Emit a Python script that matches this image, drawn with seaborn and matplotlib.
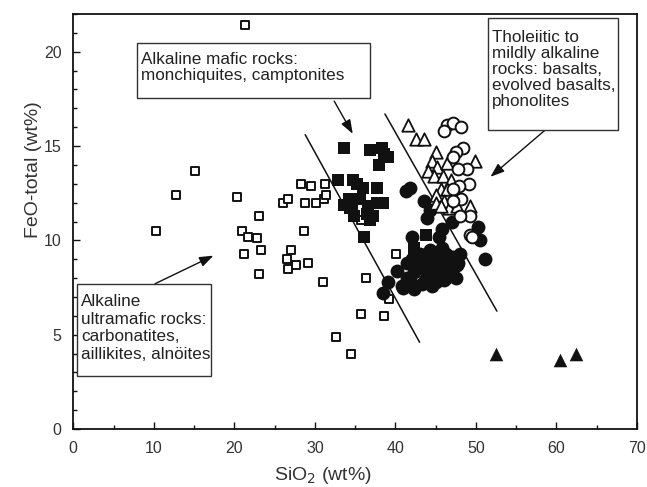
import matplotlib
matplotlib.use("Agg")
import matplotlib.pyplot as plt
from matplotlib.patches import Rectangle
import seaborn as sns
import pandas as pd

# ---------------- data (SiO2, FeO-total in wt%) ----------------
ultramafic_sio2 = [15.1, 12.7, 10.3, 20.3, 23.0, 21.0, 21.7, 22.8, 21.2, 23.3, 23.0, 26.0,
                   26.6, 28.3, 29.5, 31.3, 28.8, 30.2, 31.1, 31.4, 28.6, 27.0, 26.5, 26.6,
                   27.6, 29.2, 31.0, 36.3, 35.7, 32.6, 34.5, 35.7, 21.3, 40.1, 39.2, 38.6]
ultramafic_feo = [13.7, 12.4, 10.5, 12.3, 11.3, 10.5, 10.2, 10.1, 9.3, 9.5, 8.2, 12.0,
                  12.2, 13.0, 12.9, 13.0, 12.0, 12.0, 12.2, 12.4, 10.5, 9.5, 9.0, 8.5,
                  8.7, 8.8, 7.8, 8.0, 6.1, 4.9, 4.0, 11.1, 21.4, 9.3, 6.9, 6.0]

mafic_sio2 = [33.6, 36.8, 38.3, 38.6, 39.1, 38.0, 32.9, 34.7, 35.2, 36.0, 37.7, 34.2, 35.6,
              33.6, 34.6, 36.6, 37.7, 38.5, 34.8, 36.5, 37.2, 36.8, 36.1, 43.8, 42.3, 34.4]
mafic_feo = [14.9, 14.8, 14.9, 14.6, 14.4, 14.0, 13.2, 13.2, 13.0, 12.8, 12.8, 12.2, 12.2,
             11.9, 11.8, 11.8, 12.0, 12.0, 11.3, 11.4, 11.3, 11.1, 10.2, 10.3, 9.6, 11.7]

basalt_sio2 = [41.8, 41.3, 43.5, 44.3, 43.9, 45.8, 45.4, 42.0, 47.0, 50.3, 50.5, 51.1,
               39.1, 38.5, 40.2, 41.4, 41.0, 42.3, 43.3, 45.0, 46.3, 45.2, 46.3, 47.2,
               47.6, 47.0, 45.6, 43.9, 42.7, 42.3, 43.9, 45.2, 44.8, 43.1, 41.8, 43.7,
               46.0, 46.5, 44.3, 45.8, 42.0, 44.5, 46.0, 47.5, 43.0, 44.0, 46.8, 45.0,
               47.8, 41.5, 40.8, 48.0]
basalt_feo = [12.8, 12.6, 12.1, 11.6, 11.2, 10.6, 10.2, 10.2, 11.0, 10.7, 10.0, 9.0,
              7.8, 7.2, 8.4, 8.8, 7.5, 7.4, 7.7, 7.8, 8.0, 9.3, 9.3, 9.1,
              8.7, 8.4, 8.9, 8.8, 8.6, 8.3, 8.3, 8.4, 8.9, 8.9, 7.9, 7.9,
              8.6, 8.3, 9.5, 9.6, 9.0, 7.6, 7.9, 8.0, 9.3, 9.1, 8.9, 9.0,
              8.8, 8.0, 7.6, 9.3]

evolved_sio2 = [41.6, 42.5, 43.6, 45.1, 44.6, 45.2, 46.4, 44.0, 44.8, 45.9, 46.9, 45.6,
                46.4, 45.0, 47.3, 46.0, 45.0, 46.6, 49.3, 47.6, 49.9, 45.6]
evolved_feo = [16.1, 15.4, 15.4, 14.7, 14.2, 13.9, 14.1, 13.7, 13.4, 13.4, 13.2, 12.7,
               12.7, 12.4, 12.3, 12.1, 12.0, 11.7, 11.8, 11.8, 14.2, 11.8]

phonolite_sio2 = [46.4, 47.2, 48.2, 46.0, 48.4, 47.5, 47.2, 48.9, 47.8, 49.1, 47.9, 47.2,
                  48.2, 47.2, 49.3, 48.0, 49.2, 49.5]
phonolite_feo = [16.1, 16.2, 16.0, 15.8, 14.9, 14.7, 14.4, 13.8, 13.8, 13.0, 12.9, 12.7,
                 12.2, 12.1, 11.3, 11.3, 10.3, 10.2]

other_sio2 = [52.5, 60.5, 62.4]
other_feo = [4.0, 3.65, 4.0]

# discriminant lines (two end points each)
line1_sio2 = [28.8, 43.0]
line1_feo = [15.6, 4.6]
line2_sio2 = [38.7, 52.6]
line2_feo = [16.7, 6.25]

x_ticks = [0, 10, 20, 30, 40, 50, 60, 70]
y_ticks = [0, 5, 10, 15, 20]

label_mafic = "Alkaline mafic rocks:\nmonchiquites, camptonites"
label_thol = "Tholeiitic to\nmildly alkaline\nrocks: basalts,\nevolved basalts,\nphonolites"
label_ultra = "Alkaline\nultramafic rocks:\ncarbonatites,\naillikites, aln\u00f6ites"

# ---------------- figure ----------------
sns.set_theme(style="ticks")
plt.rcParams["font.family"] = ["Liberation Sans", "DejaVu Sans"]
W, H = 647, 487
fig = plt.figure(figsize=(W / 100, H / 100), dpi=100)
x0, x1, y0, y1 = 73.3, 637.0, 429.0, 14.0
ax = fig.add_axes([x0 / W, (H - y0) / H, (x1 - x0) / W, (y0 - y1) / H])

ink = "#111111"

groups = [
    (ultramafic_sio2, ultramafic_feo, "s", 30, "white", 1.4),
    (mafic_sio2, mafic_feo, "s", 66, ink, 0.0),
    (basalt_sio2, basalt_feo, "o", 100, ink, 0.0),
    (evolved_sio2, evolved_feo, "^", 80, "white", 1.3),
    (phonolite_sio2, phonolite_feo, "o", 72, "white", 1.4),
    (other_sio2, other_feo, "^", 95, ink, 0.0),
]
for xs, ys, mk, size, fc, lw in groups:
    df = pd.DataFrame({"SiO2": xs, "FeO": ys})
    sns.scatterplot(data=df, x="SiO2", y="FeO", marker=mk, s=size, color=fc,
                    edgecolor=ink, linewidth=lw, ax=ax, legend=False, zorder=3)

sns.lineplot(x=line1_sio2, y=line1_feo, color=ink, lw=1.1, ax=ax, zorder=2)
sns.lineplot(x=line2_sio2, y=line2_feo, color=ink, lw=1.1, ax=ax, zorder=2)

ax.set_xlim(0, 70)
ax.set_ylim(0, 22)
ax.set_xticks(x_ticks)
ax.set_yticks(y_ticks)
ax.set_xticks(range(0, 71, 5), minor=True)
ax.set_yticks(range(0, 23, 1), minor=True)
ax.tick_params(which="both", direction="in", colors=ink, labelcolor="#333333",
               labelsize=11.5, top=False, right=False)
ax.tick_params(which="major", length=5, width=1.0, pad=8.5)
ax.tick_params(which="minor", length=3, width=1.0)
for sp in ax.spines.values():
    sp.set_visible(True)
    sp.set_color(ink)
    sp.set_linewidth(1.3)

ax.set_xlabel("SiO$_2$ (wt%)", fontsize=14, color="#333333")
ax.set_ylabel("FeO-total (wt%)", fontsize=14, color="#333333")
ax.xaxis.set_label_coords((323 - x0) / (x1 - x0), (y0 - 465) / (y0 - y1))
ax.yaxis.set_label_coords((42 - x0) / (x1 - x0), (y0 - 170) / (y0 - y1))

# ---------------- annotation boxes ----------------
def box(left, top, right, bottom):
    fig.patches.append(Rectangle((left / W, 1 - bottom / H), (right - left) / W,
                                 (bottom - top) / H, transform=fig.transFigure,
                                 facecolor="white", edgecolor="#333333", lw=1.0,
                                 zorder=5))

box(136.7, 43.3, 370.0, 98.3)
fig.text(141 / W, 1 - 67.5 / H, label_mafic, fontsize=12.3, color="#222222",
         va="center", ha="left", linespacing=1.08, zorder=6)

box(488.3, 18.3, 618.3, 130.0)
fig.text(492 / W, 1 - 69.5 / H, label_thol, fontsize=12.3, color="#222222",
         va="center", ha="left", linespacing=1.08, zorder=6)

box(77.3, 284.3, 210.7, 376.0)
fig.text(81 / W, 1 - 328 / H, label_ultra, fontsize=12.3, color="#222222",
         va="center", ha="left", linespacing=1.24, zorder=6)

arrow = dict(arrowstyle="-|>,head_length=0.6,head_width=0.22", color=ink, lw=1.0,
             mutation_scale=14, shrinkA=0, shrinkB=0)
ax.annotate("", xy=(34.7, 15.65), xytext=(32.4, 17.38), arrowprops=arrow, zorder=4)
ax.annotate("", xy=(51.8, 13.37), xytext=(58.6, 15.85), arrowprops=arrow, zorder=4)
ax.annotate("", xy=(17.4, 9.19), xytext=(10.15, 7.7), arrowprops=arrow, zorder=4)

fig.savefig("out.png", dpi=100)
